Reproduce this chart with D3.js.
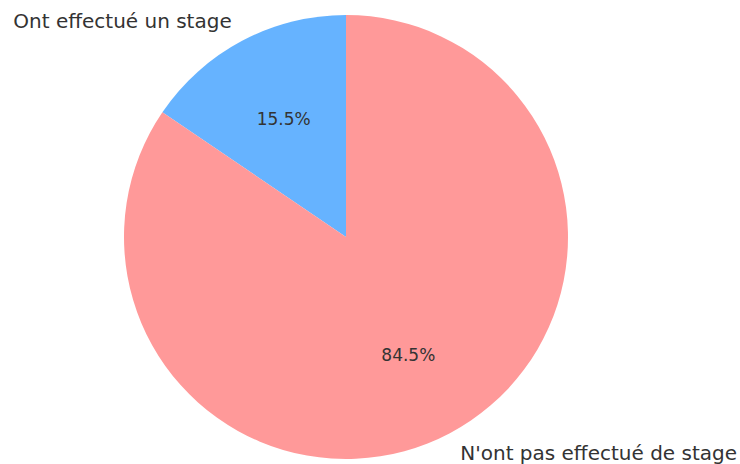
<!DOCTYPE html>
<html>
<head>
<meta charset="utf-8">
<script src="https://cdn.jsdelivr.net/npm/d3@7"></script>
<style>
  body { margin: 0; background: #fff; }
  svg { display: block; }
</style>
</head>
<body>
<svg id="chart" width="740" height="464"></svg>
<script>
const categories = ["Ont effectué un stage", "N'ont pas effectué de stage"];
const shares = [15.5, 84.5];
const colors = ["#66b3ff", "#ff9999"];

const svg = d3.select("#chart");
const cx = 346, cy = 237, r = 222;

const slices = categories.map((name, i) => ({ name, value: shares[i], color: colors[i] }));

// matplotlib-style: start at 12 o'clock, go counter-clockwise
const pie = d3.pie()
  .value((d) => d.value)
  .sort(null)
  .startAngle(0)
  .endAngle(-2 * Math.PI);

const arcs = pie(slices);
const arc = d3.arc().innerRadius(0).outerRadius(r);

const g = svg.append("g").attr("transform", `translate(${cx},${cy})`);

g.selectAll("path.slice")
  .data(arcs)
  .join("path")
  .attr("class", "slice")
  .attr("d", arc)
  .attr("fill", (d) => d.data.color);

const mid = (d) => (d.startAngle + d.endAngle) / 2;

// outer labels at 1.1 r
g.selectAll("text.label")
  .data(arcs)
  .join("text")
  .attr("class", "label")
  .attr("x", (d) => 1.1 * r * Math.sin(mid(d)))
  .attr("y", (d) => -1.1 * r * Math.cos(mid(d)))
  .attr("dy", "0.35em")
  .attr("text-anchor", (d) => (Math.sin(mid(d)) < 0 ? "end" : "start"))
  .attr("font-family", "DejaVu Sans, sans-serif")
  .attr("font-size", "20px")
  .attr("fill", "#333")
  .text((d) => d.data.name);

// percentages at 0.6 r
g.selectAll("text.pct")
  .data(arcs)
  .join("text")
  .attr("class", "pct")
  .attr("x", (d) => 0.6 * r * Math.sin(mid(d)))
  .attr("y", (d) => -0.6 * r * Math.cos(mid(d)))
  .attr("dy", "0.35em")
  .attr("text-anchor", "middle")
  .attr("font-family", "DejaVu Sans, sans-serif")
  .attr("font-size", "17px")
  .attr("fill", "#333")
  .text((d) => d3.format(".1f")(d.data.value) + "%");
</script>
</body>
</html>
